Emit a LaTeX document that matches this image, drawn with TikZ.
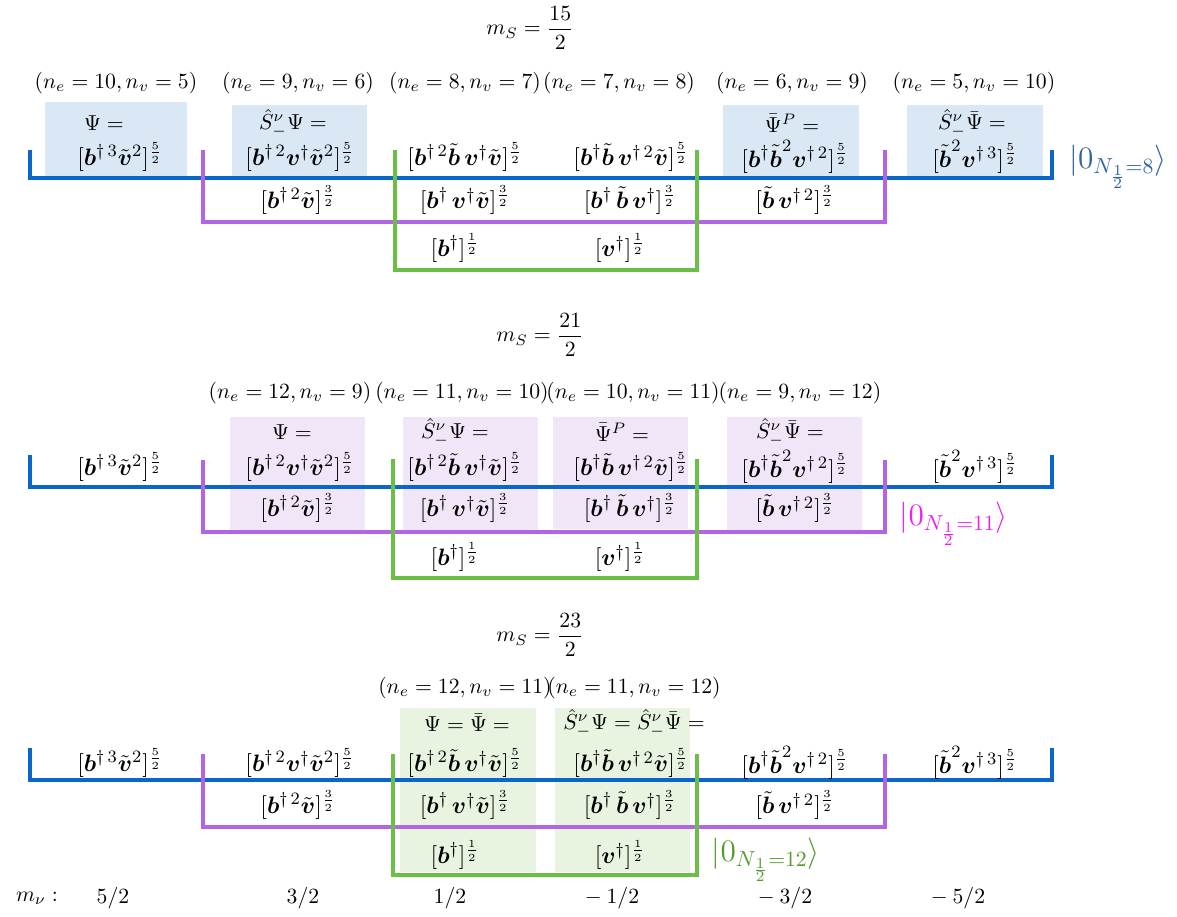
\documentclass[tikz,border=0pt]{standalone}
\usepackage{amsmath,amssymb}
\usepackage{tikz}
\usetikzlibrary{calc}
\definecolor{lnBlue}{HTML}{0A66C8}
\definecolor{lnPurple}{HTML}{B266E3}
\definecolor{lnGreen}{HTML}{6CBF45}
\definecolor{fillBlue}{HTML}{DAE7F5}
\definecolor{fillPurple}{HTML}{F1E6F8}
\definecolor{fillGreen}{HTML}{E8F3E0}
\definecolor{vacBlue}{HTML}{2D62A3}
\definecolor{vacPink}{HTML}{F21BF0}
\definecolor{vacGreen}{HTML}{519A2B}
\newcommand{\Bb}{\boldsymbol{b}}
\newcommand{\Bv}{\boldsymbol{v}}
\newcommand{\Tb}{\tilde{\boldsymbol{b}}}
\newcommand{\Tv}{\tilde{\boldsymbol{v}}}
\newcommand{\Sm}{\hat{S}^{\nu}_{-}}

\begin{document}
\begin{tikzpicture}[x=0.0162cm,y=-0.0162cm,
    ent/.style={inner sep=0pt},
    term/.style={inner sep=0pt,font=\fontsize{11}{13}\selectfont},
    bline/.style={draw=lnBlue,line width=1.7pt},
    pline/.style={draw=lnPurple,line width=1.7pt},
    gline/.style={draw=lnGreen,line width=1.7pt}]
  \useasboundingbox (0,0) rectangle (1177,917);

  % ---- m_S = 15/2
  \fill[fillBlue] (45,102) rectangle (187,177);
  \fill[fillBlue] (232,105) rectangle (367,177);
  \fill[fillBlue] (723,105) rectangle (859,177);
  \fill[fillBlue] (907,105) rectangle (1043,177);
  \draw[bline] (30,150) -- (30,178) -- (1052,178) -- (1052,150);
  \draw[pline] (203,150) -- (203,222) -- (885,222) -- (885,150);
  \draw[gline] (395,150) -- (395,270) -- (697,270) -- (697,150);
  \node[ent] (ms1) at (530,28) {$m_S=\dfrac{15}{2}$};
  \node[ent] (na1) at (116,83) {$(n_e=10,n_v=5)$};
  \node[ent] (na2) at (298,83) {$(n_e=9,n_v=6)$};
  \node[ent] (na3) at (465,83) {$(n_e=8,n_v=7)$};
  \node[ent] (na4) at (619,83) {$(n_e=7,n_v=8)$};
  \node[ent] (na5) at (792,83) {$(n_e=6,n_v=9)$};
  \node[ent] (na6) at (974,83) {$(n_e=5,n_v=10)$};
  \node[ent] (ha1) at (104,123) {$\Psi=$};
  \node[ent] (ha2) at (293,123) {$\Sm\Psi=$};
  \node[ent] (ha5) at (792,123) {$\bar\Psi^P=$};
  \node[ent] (ha6) at (972,123) {$\Sm\bar\Psi=$};
  \node[term] (a11) at (120,157) {$[\Bb^{\dagger\,3}\Tv^2]^{\frac52}$};
  \node[term] (a12) at (300,157) {$[\Bb^{\dagger\,2}\Bv^{\dagger}\Tv^2]^{\frac52}$};
  \node[term] (a13) at (465,157) {$[\Bb^{\dagger\,2}\Tb\,\Bv^{\dagger}\Tv]^{\frac52}$};
  \node[term] (a14) at (631,157) {$[\Bb^{\dagger}\Tb\,\Bv^{\dagger\,2}\Tv]^{\frac52}$};
  \node[term] (a15) at (795,157) {$[\Bb^{\dagger}\Tb^2\Bv^{\dagger\,2}]^{\frac52}$};
  \node[term] (a16) at (975,157) {$[\Tb^2\Bv^{\dagger\,3}]^{\frac52}$};
  \node[term] (a22) at (298,200) {$[\Bb^{\dagger\,2}\Tv]^{\frac32}$};
  \node[term] (a23) at (465,200) {$[\Bb^{\dagger}\,\Bv^{\dagger}\Tv]^{\frac32}$};
  \node[term] (a24) at (630,200) {$[\Bb^{\dagger}\,\Tb\,\Bv^{\dagger}]^{\frac32}$};
  \node[term] (a25) at (795,200) {$[\Tb\,\Bv^{\dagger\,2}]^{\frac32}$};
  \node[term] (a33) at (455,248) {$[\Bb^{\dagger}]^{\frac12}$};
  \node[term] (a34) at (620,248) {$[\Bv^{\dagger}]^{\frac12}$};
  \node[ent,text=vacBlue,font=\Large] (vac1) at (1118,167) {$|0_{N_{\frac12}=8}\rangle$};

  % ---- m_S = 21/2
  \fill[fillPurple] (230,417) rectangle (365,530);
  \fill[fillPurple] (403,417) rectangle (538,530);
  \fill[fillPurple] (553,417) rectangle (688,529);
  \fill[fillPurple] (727,417) rectangle (862,530);
  \draw[bline] (30,455) -- (30,487) -- (1052,487) -- (1052,455);
  \draw[pline] (203,460) -- (203,532) -- (885,532) -- (885,460);
  \draw[gline] (393,459) -- (393,578) -- (697,578) -- (697,459);
  \node[ent] (ms2) at (540,335) {$m_S=\dfrac{21}{2}$};
  \node[ent] (nb2) at (290,393) {$(n_e=12,n_v=9)$};
  \node[ent] (nb3) at (462,393) {$(n_e=11,n_v=10)$};
  \node[ent] (nb4) at (633,393) {$(n_e=10,n_v=11)$};
  \node[ent] (nb5) at (800,393) {$(n_e=9,n_v=12)$};
  \node[ent] (hb2) at (292,432) {$\Psi=$};
  \node[ent] (hb3) at (455,432) {$\Sm\Psi=$};
  \node[ent] (hb4) at (622,432) {$\bar\Psi^P=$};
  \node[ent] (hb5) at (790,432) {$\Sm\bar\Psi=$};
  \node[term] (b11) at (120,467) {$[\Bb^{\dagger\,3}\Tv^2]^{\frac52}$};
  \node[term] (b12) at (300,467) {$[\Bb^{\dagger\,2}\Bv^{\dagger}\Tv^2]^{\frac52}$};
  \node[term] (b13) at (465,467) {$[\Bb^{\dagger\,2}\Tb\,\Bv^{\dagger}\Tv]^{\frac52}$};
  \node[term] (b14) at (631,467) {$[\Bb^{\dagger}\Tb\,\Bv^{\dagger\,2}\Tv]^{\frac52}$};
  \node[term] (b15) at (795,467) {$[\Bb^{\dagger}\Tb^2\Bv^{\dagger\,2}]^{\frac52}$};
  \node[term] (b16) at (975,467) {$[\Tb^2\Bv^{\dagger\,3}]^{\frac52}$};
  \node[term] (b22) at (298,508) {$[\Bb^{\dagger\,2}\Tv]^{\frac32}$};
  \node[term] (b23) at (465,508) {$[\Bb^{\dagger}\,\Bv^{\dagger}\Tv]^{\frac32}$};
  \node[term] (b24) at (630,508) {$[\Bb^{\dagger}\,\Tb\,\Bv^{\dagger}]^{\frac32}$};
  \node[term] (b25) at (795,508) {$[\Tb\,\Bv^{\dagger\,2}]^{\frac32}$};
  \node[term] (b33) at (455,557) {$[\Bb^{\dagger}]^{\frac12}$};
  \node[term] (b34) at (620,557) {$[\Bv^{\dagger}]^{\frac12}$};
  \node[ent,text=vacPink,font=\Large] (vac2) at (954,524) {$|0_{N_{\frac12}=11}\rangle$};

  % ---- m_S = 23/2
  \fill[fillGreen] (400,708) rectangle (536,872);
  \fill[fillGreen] (555,708) rectangle (690,872);
  \draw[bline] (30,748) -- (30,780) -- (1052,780) -- (1052,748);
  \draw[pline] (203,754) -- (203,827) -- (885,827) -- (885,754);
  \draw[gline] (393,754) -- (393,875) -- (697,875) -- (697,754);
  \node[ent] (ms3) at (540,635) {$m_S=\dfrac{23}{2}$};
  \node[ent] (nc3) at (465,688) {$(n_e=12,n_v=11)$};
  \node[ent] (nc4) at (634,688) {$(n_e=11,n_v=12)$};
  \node[ent] (hc3) at (467,723) {$\Psi=\bar\Psi=$};
  \node[ent] (hc4) at (634,723) {$\Sm\Psi=\Sm\bar\Psi=$};
  \node[term] (c11) at (120,763) {$[\Bb^{\dagger\,3}\Tv^2]^{\frac52}$};
  \node[term] (c12) at (300,763) {$[\Bb^{\dagger\,2}\Bv^{\dagger}\Tv^2]^{\frac52}$};
  \node[term] (c13) at (465,763) {$[\Bb^{\dagger\,2}\Tb\,\Bv^{\dagger}\Tv]^{\frac52}$};
  \node[term] (c14) at (631,763) {$[\Bb^{\dagger}\Tb\,\Bv^{\dagger\,2}\Tv]^{\frac52}$};
  \node[term] (c15) at (795,763) {$[\Bb^{\dagger}\Tb^2\Bv^{\dagger\,2}]^{\frac52}$};
  \node[term] (c16) at (975,763) {$[\Tb^2\Bv^{\dagger\,3}]^{\frac52}$};
  \node[term] (c22) at (298,805) {$[\Bb^{\dagger\,2}\Tv]^{\frac32}$};
  \node[term] (c23) at (465,805) {$[\Bb^{\dagger}\,\Bv^{\dagger}\Tv]^{\frac32}$};
  \node[term] (c24) at (630,805) {$[\Bb^{\dagger}\,\Tb\,\Bv^{\dagger}]^{\frac32}$};
  \node[term] (c25) at (795,805) {$[\Tb\,\Bv^{\dagger\,2}]^{\frac32}$};
  \node[term] (c33) at (455,855) {$[\Bb^{\dagger}]^{\frac12}$};
  \node[term] (c34) at (620,855) {$[\Bv^{\dagger}]^{\frac12}$};
  \node[ent,text=vacGreen,font=\Large] (vac3) at (766,860) {$|0_{N_{\frac12}=12}\rangle$};

  % ---- m_nu row
  \node[ent] (mnu) at (37,898) {$m_\nu:$};
  \node[ent] (m1) at (113,898) {$5/2$};
  \node[ent] (m2) at (303,898) {$3/2$};
  \node[ent] (m3) at (450,898) {$1/2$};
  \node[ent] (m4) at (612,898) {$-\:1/2$};
  \node[ent] (m5) at (785,898) {$-\:3/2$};
  \node[ent] (m6) at (958,898) {$-\:5/2$};
\end{tikzpicture}
\end{document}
